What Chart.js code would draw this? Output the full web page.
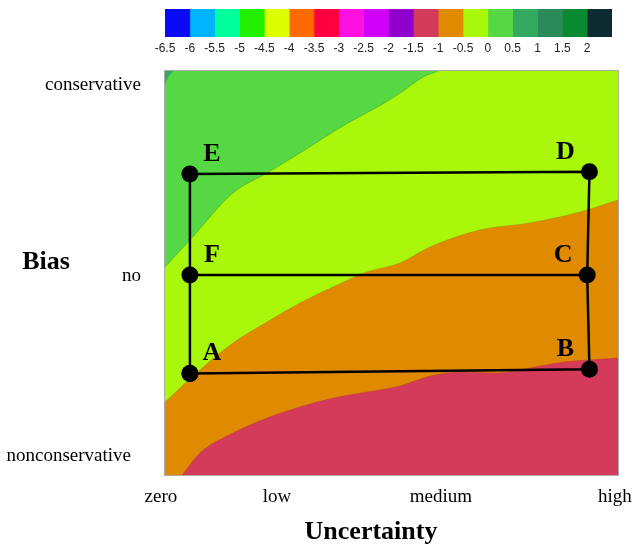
<!DOCTYPE html>
<html>
<head>
<meta charset="utf-8">
<script src="https://cdn.jsdelivr.net/npm/chart.js@4/dist/chart.umd.min.js"></script>
<style>
  html, body { margin: 0; padding: 0; background: #fff; }
  #wrap { position: relative; width: 632px; height: 545px; overflow: hidden; }
  #main, #legendBar { position: absolute; left: 0; top: 0; }
</style>
</head>
<body>
<div id="wrap">
  <canvas id="main" width="632" height="545"></canvas>
  <canvas id="legendBar" width="632" height="60"></canvas>
</div>
<script>
// Colour scale: lower edge of each band and its fill colour
const levels = [-6.5, -6, -5.5, -5, -4.5, -4, -3.5, -3, -2.5, -2, -1.5, -1, -0.5, 0, 0.5, 1, 1.5, 2];
const levelColors = ['#0a0af5', '#00b4ff', '#00ff9c', '#22f000', '#dcff00', '#ff6a00', '#ff0040', '#ff10e0', '#d000f8',
                     '#9000cc', '#d43a5a', '#e08a00', '#a9f70b', '#55d843', '#33aa60', '#2a8a5a', '#0a8a30', '#0c2a30'];
const bandWidth = 0.5;

// Axis tick labels (uncertainty 0..1, bias -1..1)
const xTickLabels = ['zero', 'low', 'medium', 'high'];
const xTickValues = [-0.009, 0.247, 0.609, 0.993];
const yTickLabels = ['nonconservative', 'no', 'conservative'];
const yTickValues = [-0.906, -0.015, 0.931];

// Scenario points
const pointNames = ['A', 'B', 'C', 'D', 'E', 'F'];
const pointUncertainty = [0.055, 0.937, 0.932, 0.937, 0.055, 0.055];
const pointBias = [-0.497, -0.477, -0.010, 0.501, 0.490, -0.010];

// Contour lines [uncertainty, bias]
const contourMinus1 = [[0.038, -1], [0.077, -0.891], [0.150, -0.792], [0.225, -0.718], [0.298, -0.663], [0.371, -0.619],
                       [0.446, -0.589], [0.519, -0.559], [0.585, -0.510], [0.658, -0.490], [0.733, -0.495], [0.806, -0.470],
                       [0.879, -0.441], [1.0, -0.421]];
const contourMinusHalf = [[0, -0.639], [0.077, -0.480], [0.150, -0.347], [0.225, -0.243], [0.298, -0.149], [0.371, -0.069],
                          [0.446, 0.005], [0.519, 0.050], [0.585, 0.129], [0.695, 0.213], [0.806, 0.248], [0.916, 0.302],
                          [1.0, 0.361]];
const contourZero = [[0, 0.030], [0.055, 0.163], [0.150, 0.396], [0.225, 0.495], [0.298, 0.594], [0.371, 0.698],
                     [0.408, 0.748], [0.481, 0.837], [0.519, 0.891], [0.570, 0.970], [0.603, 1.0]];
const contourHalf = [[0, 0.935], [0.009, 0.975], [0.018, 1.0]];

const colorFor = v => levelColors[levels.indexOf(v)];
const toXY = arr => arr.map(p => ({ x: p[0], y: p[1] }));
const serif = '"Liberation Serif", "Times New Roman", serif';

// ---------- colour bar ----------
new Chart(document.getElementById('legendBar'), {
  type: 'bar',
  data: {
    labels: ['scale'],
    datasets: levels.map((v, i) => ({
      data: [[v, v + bandWidth]],
      backgroundColor: levelColors[i],
      borderWidth: 0,
      grouped: false,
      barPercentage: 1,
      categoryPercentage: 1
    }))
  },
  options: {
    responsive: false,
    animation: false,
    events: [],
    indexAxis: 'y',
    layout: { padding: { left: 165, right: 20, top: 9, bottom: 0 } },
    plugins: { legend: { display: false }, tooltip: { enabled: false } },
    scales: {
      x: {
        type: 'linear',
        min: levels[0],
        max: levels[levels.length - 1] + bandWidth,
        grid: { display: false, drawTicks: false },
        border: { display: false },
        afterFit: s => { s.height = 23; },
        ticks: {
          stepSize: bandWidth,
          autoSkip: false,
          maxRotation: 0,
          padding: 4,
          color: '#222',
          font: { family: '"Liberation Sans", Arial, sans-serif', size: 12 },
          callback: v => (v > levels[levels.length - 1] + 0.01 ? '' : String(Math.round(v * 10) / 10))
        }
      },
      y: { display: false }
    }
  }
});

// ---------- contour map ----------
const fillSet = (data, level, fill, order, edge) => ({
  data: toXY(data),
  showLine: true,
  fill: fill,
  backgroundColor: colorFor(level),
  borderColor: edge,
  borderWidth: edge ? 1 : 0,
  pointRadius: 0,
  cubicInterpolationMode: 'monotone',
  order: order
});

const frameOrder = [0, 1, 2, 3, 4, 5, 0];

const textPlugin = {
  id: 'chartText',
  afterDatasetsDraw(chart) {
    const { ctx, chartArea: a, scales: { x, y } } = chart;
    ctx.save();
    // plot frame
    ctx.strokeStyle = 'rgba(150,150,150,0.8)';
    ctx.lineWidth = 1;
    ctx.strokeRect(a.left - 0.5, a.top - 0.5, a.right - a.left + 1, a.bottom - a.top + 1);

    // scenario letters
    const meta = chart.getDatasetMeta(5);
    ctx.fillStyle = '#000';
    ctx.font = 'bold 26px ' + serif;
    ctx.textAlign = 'center';
    ctx.textBaseline = 'alphabetic';
    pointNames.forEach((n, i) => {
      const el = meta.data[i];
      const dx = pointUncertainty[i] < 0.5 ? 22 : -24;
      ctx.fillText(n, el.x + dx, el.y - 13);
    });

    // tick labels
    ctx.font = '19px ' + serif;
    ctx.textAlign = 'center';
    xTickLabels.forEach((t, i) => ctx.fillText(t, x.getPixelForValue(xTickValues[i]), 502));
    ctx.textAlign = 'right';
    yTickLabels.forEach((t, i) => ctx.fillText(t, i === 0 ? 131 : 141, y.getPixelForValue(yTickValues[i]) + 5));

    // axis titles
    ctx.font = 'bold 26px ' + serif;
    ctx.textAlign = 'center';
    ctx.fillText('Bias', 46, 269);
    ctx.fillText('Uncertainty', 371, 539);
    ctx.restore();
  }
};

new Chart(document.getElementById('main'), {
  type: 'scatter',
  data: {
    datasets: [
      // base band, -0.5 .. 0
      fillSet([[0, 1], [1, 1]], -0.5, 'start', 10, null),
      fillSet(contourZero, 0, 'end', 9, 'rgba(70,150,40,0.5)'),
      fillSet(contourHalf, 0.5, 'end', 8, null),
      fillSet(contourMinusHalf, -1, 'start', 7, 'rgba(160,130,0,0.45)'),
      fillSet(contourMinus1, -1.5, 'start', 6, 'rgba(180,70,40,0.45)'),
      // scenario frame A-B-C-D-E-F-A
      {
        data: frameOrder.map(i => ({ x: pointUncertainty[i], y: pointBias[i] })),
        showLine: true,
        fill: false,
        borderColor: '#000',
        borderWidth: 2.5,
        pointRadius: 8.5,
        pointBackgroundColor: '#000',
        pointBorderWidth: 0,
        tension: 0,
        order: 1
      },
      // F - C link
      {
        data: [5, 2].map(i => ({ x: pointUncertainty[i], y: pointBias[i] })),
        showLine: true,
        fill: false,
        borderColor: '#000',
        borderWidth: 2.5,
        pointRadius: 0,
        tension: 0,
        order: 2
      }
    ]
  },
  options: {
    responsive: false,
    animation: false,
    events: [],
    layout: { padding: { left: 165, right: 14, top: 71, bottom: 70 } },
    plugins: { legend: { display: false }, tooltip: { enabled: false } },
    scales: {
      x: { type: 'linear', min: 0, max: 1, display: false },
      y: { type: 'linear', min: -1, max: 1, display: false }
    }
  },
  plugins: [textPlugin]
});
</script>
</body>
</html>
